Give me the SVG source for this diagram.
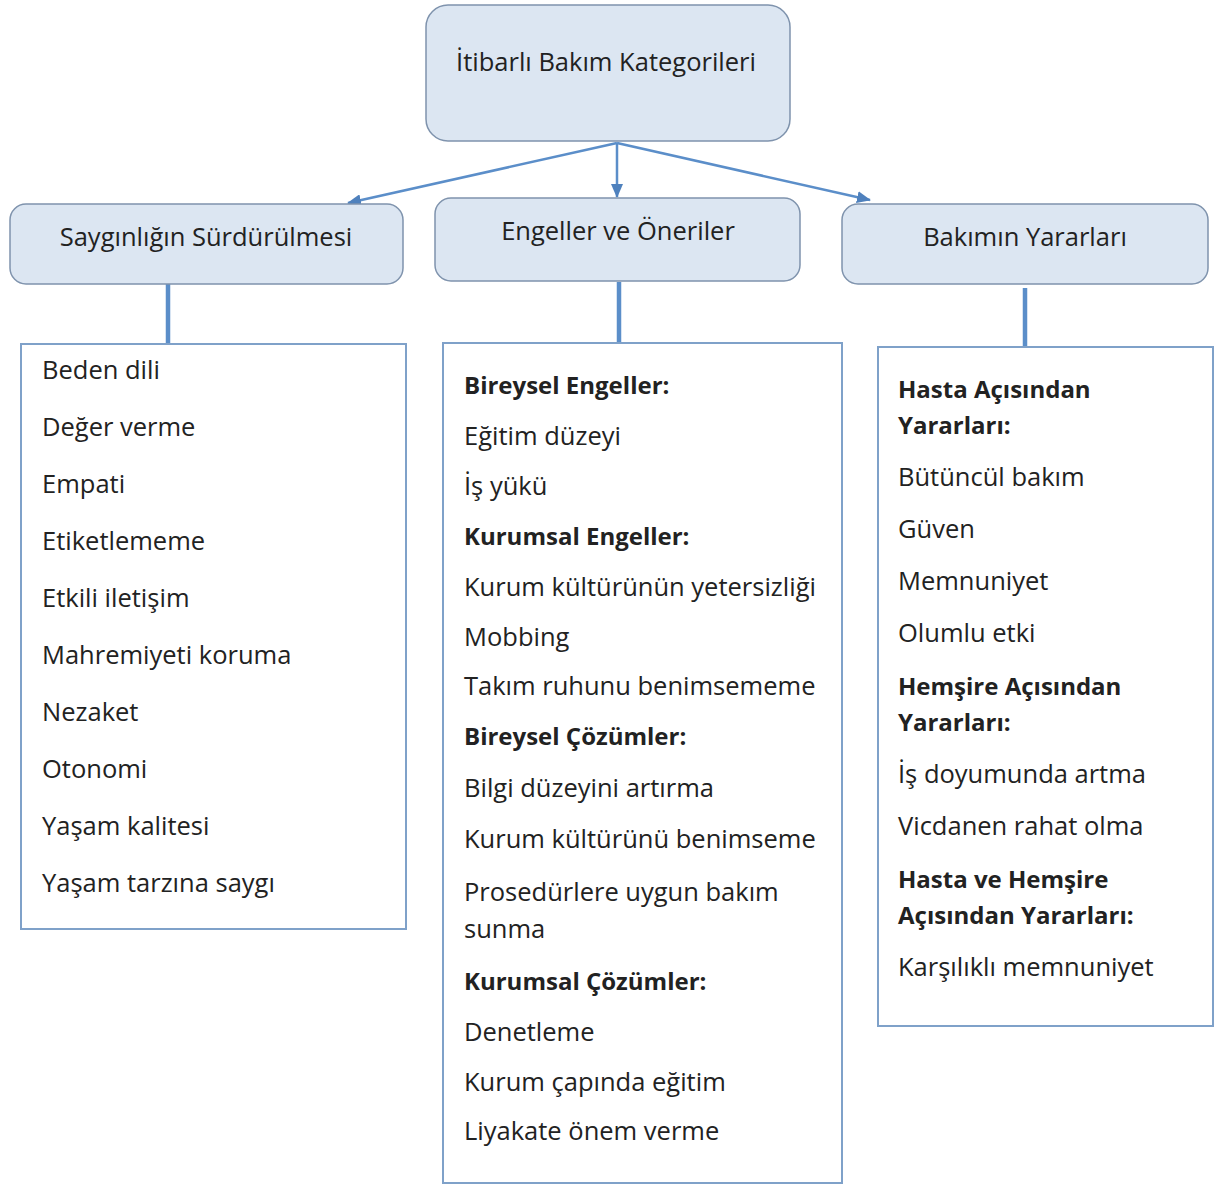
<svg xmlns="http://www.w3.org/2000/svg" width="1215" height="1185" viewBox="0 0 1215 1185">
<style>
.hb{fill:#dce6f2;stroke:#7f93ad;stroke-width:1.5}
.lb{fill:#ffffff;stroke:#7fa1c9;stroke-width:2}
.t{font-family:"Open Sans","Liberation Sans",Arial,sans-serif;font-size:25.5px;fill:#222}
.b{font-weight:bold;font-size:24px}
.c{text-anchor:middle}
.ar{stroke:#5b8ec9;stroke-width:2.5;fill:none}
.th{stroke:#5b8ec9;stroke-width:4.5;fill:none}
</style>
<defs>
<marker id="ah" viewBox="0 0 14 12" refX="13" refY="6" markerWidth="14" markerHeight="12" orient="auto" markerUnits="userSpaceOnUse">
<path d="M0,0 L14,6 L0,12 z" fill="#4f81bd"/>
</marker>
</defs>
<rect width="1215" height="1185" fill="#ffffff"/>
<g id="connectors">
<line class="ar" x1="617" y1="143" x2="617" y2="197" marker-end="url(#ah)"/>
<line class="ar" x1="617" y1="143" x2="348" y2="203" marker-end="url(#ah)"/>
<line class="ar" x1="617" y1="143" x2="870" y2="200" marker-end="url(#ah)"/>
<line class="th" x1="168" y1="284" x2="168" y2="344"/>
<line class="th" x1="619" y1="282" x2="619" y2="342"/>
<line class="th" x1="1025" y1="288" x2="1025" y2="347"/>
</g>
<g id="root">
<rect class="hb" x="426" y="5" width="364" height="136" rx="22"/>
<text class="t c" x="606" y="71">İtibarlı Bakım Kategorileri</text>
</g>
<g id="n1">
<rect class="hb" x="10" y="204" width="393" height="80" rx="16"/>
<text class="t c" x="206" y="246">Saygınlığın Sürdürülmesi</text>
</g>
<g id="n2">
<rect class="hb" x="435" y="198" width="365" height="83" rx="16"/>
<text class="t c" x="618" y="240">Engeller ve Öneriler</text>
</g>
<g id="n3">
<rect class="hb" x="842" y="204" width="366" height="80" rx="16"/>
<text class="t c" x="1025" y="246">Bakımın Yararları</text>
</g>
<g id="list1">
<rect class="lb" x="21" y="344" width="385" height="585"/>
<text class="t" x="42" y="379">Beden dili</text>
<text class="t" x="42" y="436">Değer verme</text>
<text class="t" x="42" y="493">Empati</text>
<text class="t" x="42" y="550">Etiketlememe</text>
<text class="t" x="42" y="607">Etkili iletişim</text>
<text class="t" x="42" y="664">Mahremiyeti koruma</text>
<text class="t" x="42" y="721">Nezaket</text>
<text class="t" x="42" y="778">Otonomi</text>
<text class="t" x="42" y="835">Yaşam kalitesi</text>
<text class="t" x="42" y="892">Yaşam tarzına saygı</text>
</g>
<g id="list2">
<rect class="lb" x="443" y="343" width="399" height="840"/>
<text class="t b" x="464" y="394">Bireysel Engeller:</text>
<text class="t" x="464" y="445">Eğitim düzeyi</text>
<text class="t" x="464" y="495">İş yükü</text>
<text class="t b" x="464" y="545">Kurumsal Engeller:</text>
<text class="t" x="464" y="596">Kurum kültürünün yetersizliği</text>
<text class="t" x="464" y="646">Mobbing</text>
<text class="t" x="464" y="695">Takım ruhunu benimsememe</text>
<text class="t b" x="464" y="745">Bireysel Çözümler:</text>
<text class="t" x="464" y="797">Bilgi düzeyini artırma</text>
<text class="t" x="464" y="848">Kurum kültürünü benimseme</text>
<text class="t" x="464" y="901">Prosedürlere uygun bakım</text>
<text class="t" x="464" y="938">sunma</text>
<text class="t b" x="464" y="990">Kurumsal Çözümler:</text>
<text class="t" x="464" y="1041">Denetleme</text>
<text class="t" x="464" y="1091">Kurum çapında eğitim</text>
<text class="t" x="464" y="1140">Liyakate önem verme</text>
</g>
<g id="list3">
<rect class="lb" x="878" y="347" width="335" height="679"/>
<text class="t b" x="898" y="398">Hasta Açısından</text>
<text class="t b" x="898" y="434">Yararları:</text>
<text class="t" x="898" y="486">Bütüncül bakım</text>
<text class="t" x="898" y="538">Güven</text>
<text class="t" x="898" y="590">Memnuniyet</text>
<text class="t" x="898" y="642">Olumlu etki</text>
<text class="t b" x="898" y="695">Hemşire Açısından</text>
<text class="t b" x="898" y="731">Yararları:</text>
<text class="t" x="898" y="783">İş doyumunda artma</text>
<text class="t" x="898" y="835">Vicdanen rahat olma</text>
<text class="t b" x="898" y="888">Hasta ve Hemşire</text>
<text class="t b" x="898" y="924">Açısından Yararları:</text>
<text class="t" x="898" y="976">Karşılıklı memnuniyet</text>
</g>
</svg>
